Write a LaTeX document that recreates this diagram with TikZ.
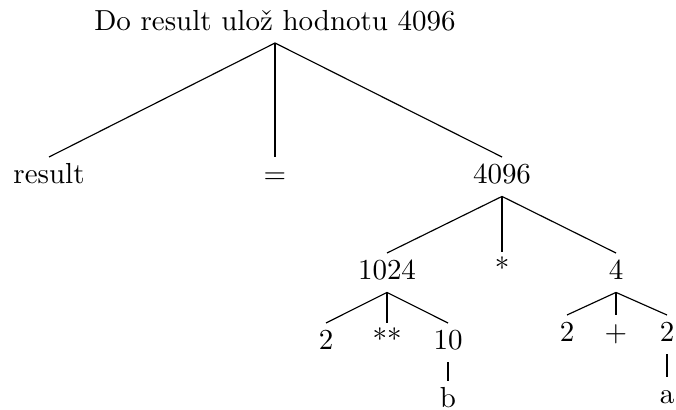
\documentclass[tikz,border=0pt]{standalone}
\usepackage{tikz}

\begin{document}
\begin{tikzpicture}[x=0.345pt, y=-0.345pt,
          every node/.style={inner sep=2pt, text height=7pt, text depth=2.2pt, anchor=north},
          br/.style={draw=black, line width=0.4pt}]
        \useasboundingbox (0,0) rectangle (676,410);
        \node[anchor=south] (top) at (275,43) {Do result ulož hodnotu 4096};
        \node (res) at (49,157) {result};
        \node (eq) at (275,157) {=};
        \node (val) at (502,157) {4096};
        \node (pw) at (387,253) {1024};
        \node (mul) at (502,252) {*};
        \node (four) at (616,253) {4};
        \node (ta) at (326,323) {2};
        \node (exp) at (387,323) {**};
        \node (ten) at (448,323) {10};
        \node (tb) at (567,315) {2};
        \node (plus) at (616,315) {+};
        \node (tc) at (667,315) {2};
        \node (b) at (448,381) {b};
        \node (a) at (667,377) {a};
        % edges of the tree
        \foreach \p/\c in {top/res, top/eq, top/val, val/pw, val/mul, val/four,
                           pw/ta, pw/exp, pw/ten, four/tb, four/plus, four/tc,
                           ten/b, tc/a}
          \draw[br] (\p.south) -- (\c.north);
      \end{tikzpicture}
\end{document}
